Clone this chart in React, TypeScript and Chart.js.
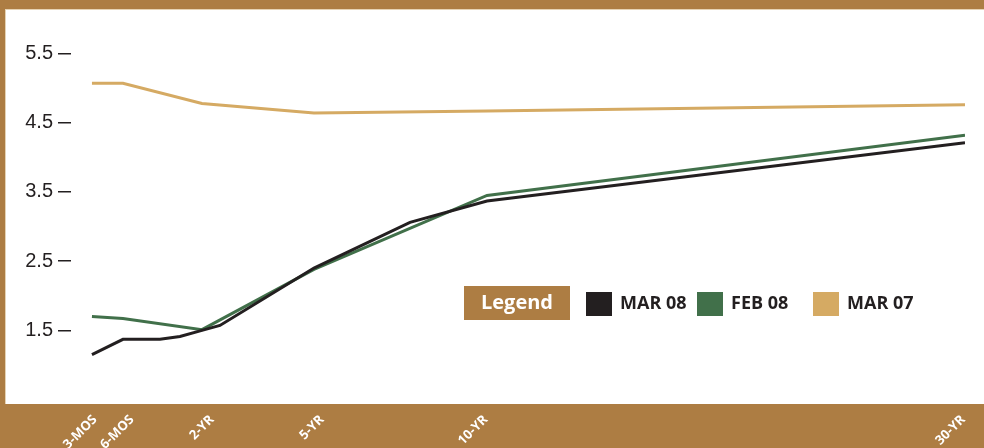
import React, { useEffect, useRef } from 'react';
import { Chart, registerables } from 'chart.js';

Chart.register(...registerables);

// ---- data ----
const termLabels = ['3-MOS', '6-MOS', '2-YR', '5-YR', '10-YR', '30-YR'];
const termTickPos = [0.34, 4.58, 13.75, 26.35, 45.1, 99.8];
const curveX = [0, 3.55, 7.79, 10.08, 12.6, 14.66, 25.43, 36.43, 45.25, 100];
const mar08 = [1.15, 1.37, 1.37, 1.41, 1.5, 1.57, 2.4, 3.06, 3.37, 4.21];
const feb08 = [1.7, 1.67, null, null, 1.51, null, 2.38, null, 3.45, 4.32];
const mar07 = [5.07, 5.07, null, null, 4.78, null, 4.64, null, 4.67, 4.76];
const yTicks = [1.5, 2.5, 3.5, 4.5, 5.5];
const seriesNames = ['MAR 08', 'FEB 08', 'MAR 07'];
const seriesColors = ['#231F20', '#41704A', '#D5AA63'];
const legendTitle = 'Legend';

const BROWN = '#AD7D43';
const TEXT = '#231F20';

const toPoints = (ys: (number | null)[]) => ys.map((y, i) => ({ x: curveX[i], y }));

const framePlugin = {
  id: 'frame',
  beforeDraw(chart: any) {
    const { ctx, width, height, chartArea } = chart;
    ctx.save();
    ctx.fillStyle = '#ffffff';
    ctx.fillRect(0, 0, width, height);
    ctx.fillStyle = BROWN;
    ctx.fillRect(0, 0, width, 9);
    ctx.fillRect(0, 0, 5, height);
    ctx.fillRect(0, chartArea.bottom, width, height - chartArea.bottom);
    ctx.fillStyle = '#E6D3B4';
    ctx.fillRect(5, 9, width - 5, 1);
    ctx.fillRect(5, 9, 1, chartArea.bottom - 9);
    ctx.restore();
  },
};

const legendPlugin = {
  id: 'customLegend',
  afterDraw(chart: any) {
    const { ctx } = chart;
    ctx.save();
    ctx.fillStyle = BROWN;
    ctx.fillRect(464, 286, 106, 34);
    ctx.fillStyle = '#ffffff';
    ctx.font = 'bold 20px "Open Sans", sans-serif';
    ctx.textAlign = 'center';
    ctx.textBaseline = 'middle';
    ctx.fillText(legendTitle, 517, 303);
    const xs = [586, 697, 813];
    ctx.font = 'bold 18px "Open Sans", sans-serif';
    ctx.textAlign = 'left';
    chart.data.datasets.forEach((ds: any, i: number) => {
      ctx.fillStyle = ds.borderColor;
      ctx.fillRect(xs[i], 292, 26, 24);
      ctx.fillStyle = TEXT;
      ctx.fillText(ds.label, xs[i] + 34, 304);
    });
    ctx.restore();
  },
};

export default function App() {
  const ref = useRef<HTMLCanvasElement | null>(null);

  useEffect(() => {
    document.body.style.margin = '0';
    document.body.style.overflow = 'hidden';
    if (!ref.current) return;
    const chart = new Chart(ref.current, {
      type: 'line',
      data: {
        datasets: [mar08, feb08, mar07].map((d, i) => ({
          label: seriesNames[i],
          data: toPoints(d),
          borderColor: seriesColors[i],
          backgroundColor: seriesColors[i],
          borderWidth: 3,
          pointRadius: 0,
          tension: 0,
          spanGaps: true,
          fill: false,
        })),
      },
      options: {
        responsive: false,
        animation: false,
        devicePixelRatio: 1,
        layout: { padding: { top: 10, right: 19, left: 0, bottom: 0 } },
        plugins: { legend: { display: false }, tooltip: { enabled: false } },
        scales: {
          x: {
            type: 'linear',
            min: -2.4,
            max: 100,
            grid: { display: false },
            border: { display: false },
            afterBuildTicks: (scale: any) => {
              scale.ticks = termTickPos.map((v) => ({ value: v }));
            },
            afterFit: (scale: any) => {
              scale.height = 44;
              scale.paddingLeft = 0;
              scale.paddingRight = 0;
            },
            ticks: {
              autoSkip: false,
              maxRotation: 45,
              minRotation: 45,
              padding: 0,
              color: '#ffffff',
              font: { family: '"Open Sans", sans-serif', size: 13, weight: 'bold' },
              callback: (_v: any, i: number) => termLabels[i],
            },
          },
          y: {
            type: 'linear',
            min: 0.435,
            max: 6.13,
            border: { display: false },
            grid: {
              drawOnChartArea: false,
              drawTicks: true,
              tickLength: 13,
              color: TEXT,
              lineWidth: 1.5,
            },
            afterBuildTicks: (scale: any) => {
              scale.ticks = yTicks.map((v) => ({ value: v }));
            },
            afterFit: (scale: any) => {
              scale.width = 71;
              scale.paddingTop = 0;
              scale.paddingBottom = 0;
            },
            ticks: {
              padding: 5,
              color: TEXT,
              font: { family: '"Liberation Sans", Arial, sans-serif', size: 20 },
              callback: (v: any) => Number(v).toFixed(1),
            },
          },
        },
      },
      plugins: [framePlugin, legendPlugin],
    } as any);
    return () => chart.destroy();
  }, []);

  return (
    <div style={{ width: 984, height: 448 }}>
      <canvas ref={ref} width={984} height={448} style={{ display: 'block' }} />
    </div>
  );
}
